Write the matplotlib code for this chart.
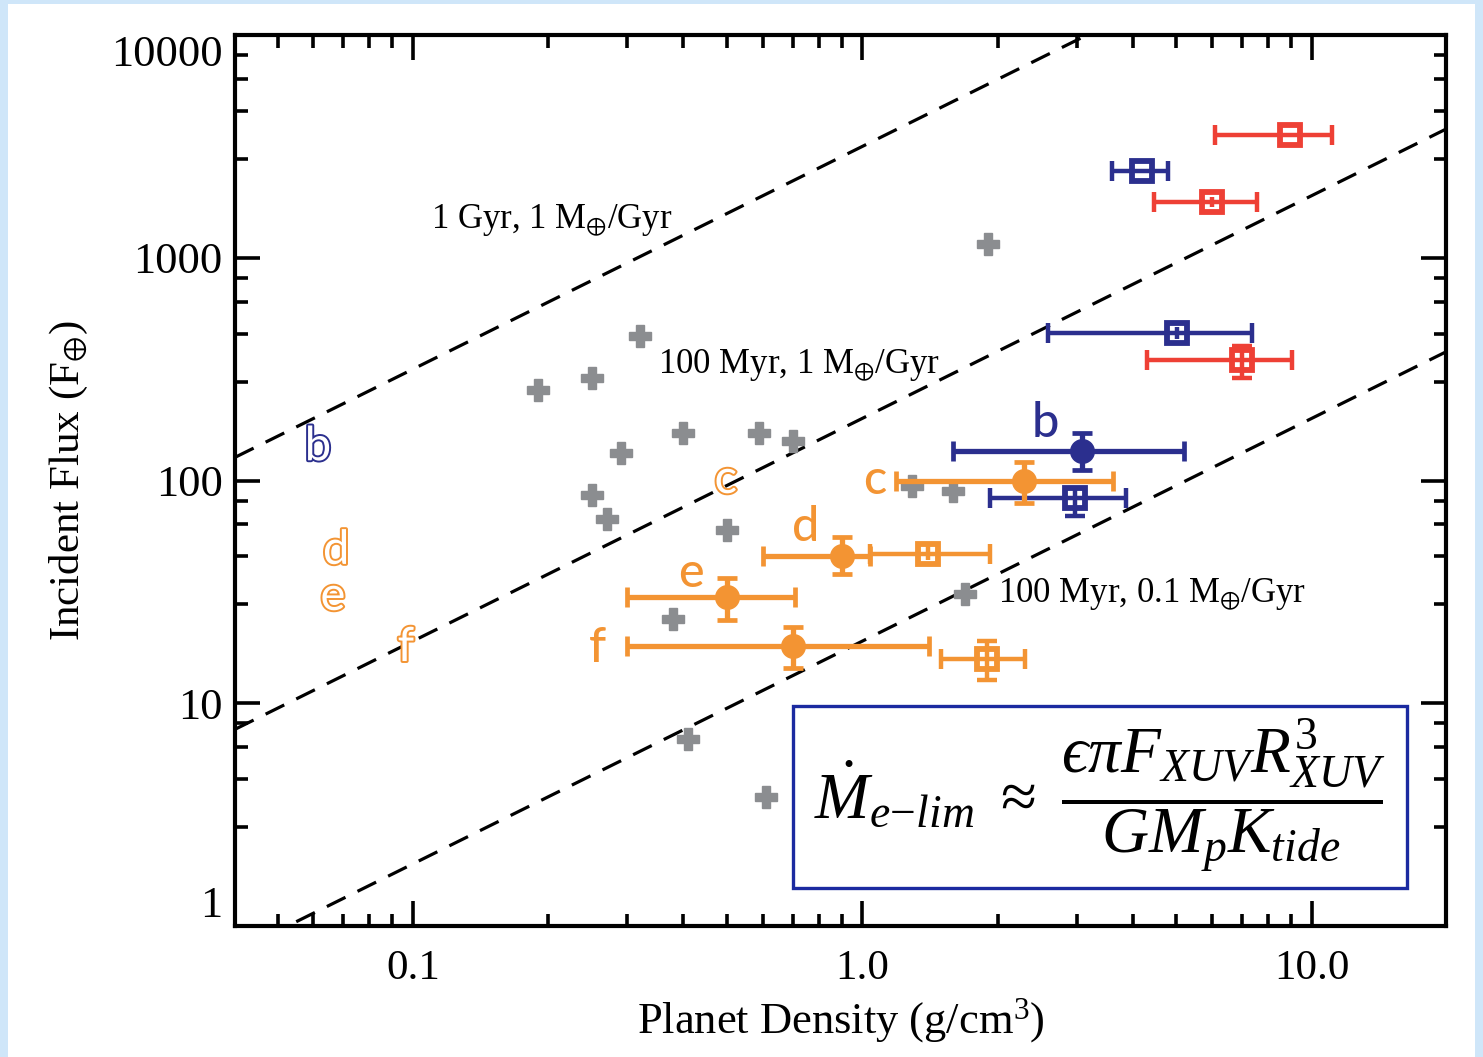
import matplotlib
matplotlib.use("Agg")
import matplotlib.pyplot as plt
import matplotlib.patheffects as pe
from matplotlib.patches import Rectangle
from matplotlib.ticker import FixedLocator, NullFormatter
import numpy as np

plt.rcParams['font.family'] = ['Liberation Serif', 'DejaVu Serif']
plt.rcParams['mathtext.fontset'] = 'custom'
plt.rcParams['mathtext.rm'] = 'Liberation Serif'
plt.rcParams['mathtext.it'] = 'Liberation Serif:italic'
plt.rcParams['mathtext.bf'] = 'Liberation Serif:bold'
plt.rcParams['mathtext.fallback'] = 'stix'

# ---- data -------------------------------------------------------------
# comparison planets (grey crosses)
gray_rho = [1.9, 0.32, 0.19, 0.25, 0.29, 0.40, 0.59, 0.70, 0.25, 0.27,
            0.50, 1.29, 1.59, 0.38, 1.69, 0.41, 0.61]
gray_flux = [1150, 445, 255, 290, 133, 163, 164, 150, 86, 67,
             60, 94, 90, 24, 31, 6.9, 3.8]

# Kepler-11 planets (filled circles)
planet_names = ['b', 'c', 'd', 'e', 'f']
circ_rho = [3.08, 2.29, 0.90, 0.50, 0.70]
circ_rho_lo = [1.59, 1.19, 0.60, 0.30, 0.30]
circ_rho_hi = [5.21, 3.61, 1.04, 0.71, 1.41]
circ_flux = [136, 100, 46, 30, 18]
circ_flux_lo = [112, 79, 38, 23.6, 14.4]
circ_flux_hi = [163, 121, 56, 36.5, 22]
circ_group = ['blue', 'orange', 'orange', 'orange', 'orange']

# other systems (open squares)
sq_rho = [4.19, 5.01, 2.98, 8.97, 5.99, 6.98, 1.40, 1.89]
sq_rho_lo = [3.59, 2.59, 1.92, 6.08, 4.45, 4.30, 1.04, 1.50]
sq_rho_hi = [4.79, 7.35, 3.86, 11.08, 7.54, 9.03, 1.92, 2.30]
sq_flux = [2450, 459, 83.5, 3560, 1780, 347, 47, 15.8]
sq_flux_lo = [2450, 430, 69, 3560, 1690, 290, 44, 12.7]
sq_flux_hi = [2450, 490, 92, 3560, 1870, 400, 51, 19.0]
sq_group = ['blue', 'blue', 'blue', 'red', 'red', 'red', 'orange', 'orange']

# energy-limited mass-loss lines: F = A * rho
line_coef = [3160, 190, 19]
line_labels = ['1 Gyr, 1 M$_{\\oplus}$/Gyr',
               '100 Myr, 1 M$_{\\oplus}$/Gyr',
               '100 Myr, 0.1 M$_{\\oplus}$/Gyr']
line_label_pos = [(0.110, 1470), (0.351, 330), (2.00, 30.9)]

# letter tags
tag_pos = [(2.55, 181), (1.066, 100.5), (0.748, 61.8), (0.415, 38.4), (0.258, 17.7)]
ghost_names = ['b', 'c', 'd', 'e', 'f']
ghost_pos = [(0.0615, 141), (0.497, 100.5), (0.0675, 48.3), (0.0664, 30.0), (0.0965, 17.7)]
ghost_group = ['blue', 'orange', 'orange', 'orange', 'orange']

x_ticks = [0.1, 1.0, 10.0]
x_ticklabels = ['0.1', '1.0', '10.0']
y_ticks = [1, 10, 100, 1000, 10000]
y_ticklabels = ['1', '10', '100', '1000', '10000']
y_minor_mult = [2.78, 4.56, 6.35, 8.13]

palette = {'blue': '#2b2f8e', 'orange': '#f39433', 'red': '#ee4035'}
gray = '#8b8d90'

# ---- figure -----------------------------------------------------------
W, H = 1483, 1057
fig = plt.figure(figsize=(W / 100, H / 100), dpi=100)
fig.patch.set_facecolor('#cfe6f9')
fig.patches.append(Rectangle((8 / W, 0), (1475 - 8) / W, 1 - 4 / H,
                             transform=fig.transFigure, facecolor='white',
                             edgecolor='none', zorder=-10))

ax = fig.add_axes([235 / W, 1 - 926 / H, (1446 - 235) / W, (926 - 35) / H])
ax.set_zorder(1)
ax.set_xscale('log')
ax.set_yscale('log')
ax.set_xlim(0.0402, 19.9)
ax.set_ylim(1, 10000)

# dashed mass-loss lines
xs = np.array([0.0402, 19.9])
for A in line_coef:
    ln, = ax.plot(xs, A * xs, color='black', lw=2.3, zorder=2)
    ln.set_dashes((6.5, 4.2))

for (lx, ly), txt in zip(line_label_pos, line_labels):
    ax.text(lx, ly, txt, fontsize=25, ha='left', va='center', zorder=3)

# grey comparison planets
ax.plot(gray_rho, gray_flux, linestyle='none', marker='P', markersize=16,
        color=gray, markeredgecolor=gray, zorder=3)

# squares: white face, error lines drawn over them
SQ_MS = 15
sq_half_dex = 0.055   # half the square's height in decades of flux
for i in range(len(sq_rho)):
    c = palette[sq_group[i]]
    ax.plot([sq_rho[i]], [sq_flux[i]], marker='s', markersize=SQ_MS,
            markerfacecolor='white', markeredgecolor=c, markeredgewidth=4.2,
            linestyle='none', zorder=4)
    ax.errorbar([sq_rho[i]], [sq_flux[i]],
                xerr=[[sq_rho[i] - sq_rho_lo[i]], [sq_rho_hi[i] - sq_rho[i]]],
                fmt='none', ecolor=c, elinewidth=3.2, capsize=7, capthick=3.2,
                zorder=5)
    if sq_flux_hi[i] > sq_flux_lo[i]:
        ax.plot([sq_rho[i], sq_rho[i]], [sq_flux_lo[i], sq_flux_hi[i]],
                color=c, lw=3.2, solid_capstyle='butt', zorder=5)
        # caps only where the error reaches outside the square
        for end in (sq_flux_lo[i], sq_flux_hi[i]):
            if abs(np.log10(end / sq_flux[i])) > sq_half_dex:
                ax.plot([sq_rho[i]], [end], marker='_', markersize=14,
                        markeredgewidth=3.2, color=c, zorder=5)

# Kepler-11 planets
for i in range(len(circ_rho)):
    c = palette[circ_group[i]]
    ax.errorbar([circ_rho[i]], [circ_flux[i]],
                xerr=[[circ_rho[i] - circ_rho_lo[i]], [circ_rho_hi[i] - circ_rho[i]]],
                yerr=[[circ_flux[i] - circ_flux_lo[i]], [circ_flux_hi[i] - circ_flux[i]]],
                fmt='o', color=c, markersize=17, ecolor=c, elinewidth=3.8,
                capsize=7, capthick=3.4, zorder=6)

# letter tags
tag_font = ['Lato', 'DejaVu Sans']
for (tx, ty), name, grp in zip(tag_pos, planet_names, circ_group):
    ax.text(tx, ty, name, family=tag_font, fontsize=35, fontweight='medium',
            color=palette[grp], ha='center', va='center', zorder=7)

for (tx, ty), name, grp in zip(ghost_pos, ghost_names, ghost_group):
    ax.text(tx, ty, name, family=tag_font, fontsize=34, color='white',
            ha='center', va='center', zorder=7,
            path_effects=[pe.withStroke(linewidth=2.8, foreground=palette[grp])])

# formula box
ax.add_patch(Rectangle((0.461, 0.0426), 0.507, 0.2044, transform=ax.transAxes,
                       facecolor='white', edgecolor='#1b2aa0', lw=2.4, zorder=8))
ax.text(0.7145, 0.146,
        '$\\dot{M}_{e{-}lim}\\ \\approx\\ \\dfrac{\u03f5\\pi F_{XUV} R^3_{XUV}}{G M_p K_{tide}}$',
        transform=ax.transAxes, fontsize=47, ha='center', va='center', zorder=9)

# axes styling
for s in ax.spines.values():
    s.set_linewidth(3)
ax.xaxis.set_major_locator(FixedLocator(x_ticks))
ax.set_xticklabels(x_ticklabels)
ax.yaxis.set_major_locator(FixedLocator(y_ticks))
ax.set_yticklabels(y_ticklabels)
ax.yaxis.set_minor_locator(FixedLocator(
    [m * 10.0 ** k for k in range(4) for m in y_minor_mult]))
ax.yaxis.set_minor_formatter(NullFormatter())
ax.xaxis.set_minor_formatter(NullFormatter())
ax.tick_params(which='both', direction='in', top=True, right=True, width=2.6)
ax.tick_params(which='major', length=18)
ax.tick_params(which='minor', length=9)
ax.tick_params(axis='x', which='major', labelsize=31, pad=17)
ax.tick_params(axis='y', which='major', labelsize=32, pad=9)

for lab in ax.get_yticklabels():
    if lab.get_text() == '10000':
        lab.set_va('top')
    elif lab.get_text() == '1':
        lab.set_va('bottom')

ax.set_xlabel('Planet Density (g/cm$^3$)', fontsize=32, labelpad=6)
ax.set_ylabel('Incident Flux (F$_{\\oplus}$)', fontsize=31, labelpad=15)

fig.savefig('out.png', dpi=100, facecolor=fig.get_facecolor())
